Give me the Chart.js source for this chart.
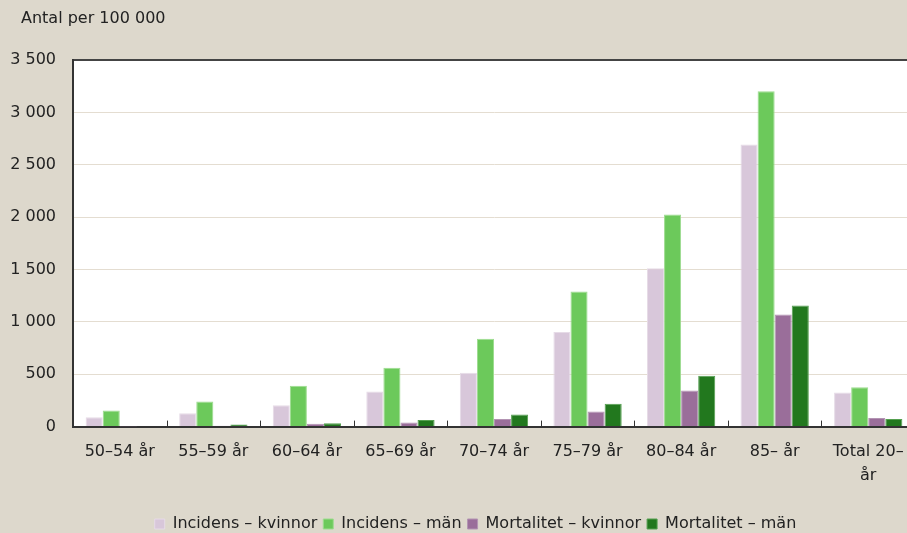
<!DOCTYPE html>
<html>
<head>
<meta charset="utf-8">
<script src="https://cdn.jsdelivr.net/npm/chart.js@4"></script>
<style>
  html, body { margin: 0; padding: 0; background: #ddd8cc; }
  #wrap { position: relative; width: 907px; height: 533px; overflow: hidden; }
  #ytitle { position: absolute; left: 21px; top: 8px; font: 16px "DejaVu Sans"; color: #222; }
  canvas { position: absolute; left: 0; top: 0; }
</style>
</head>
<body>
<div id="wrap">
  <canvas id="chart" width="930" height="544"></canvas>
  <div id="ytitle">Antal per 100 000</div>
</div>
<script>
const categories = ['50–54 år', '55–59 år', '60–64 år', '65–69 år', '70–74 år', '75–79 år', '80–84 år', '85– år', ['Total 20–', 'år']];
const incidensKvinnor = [90, 127, 204, 335, 513, 902, 1511, 2694, 325];
const incidensMan = [153, 239, 389, 561, 839, 1291, 2024, 3201, 376];
const mortalitetKvinnor = [2, 8, 27, 38, 73, 143, 344, 1071, 83];
const mortalitetMan = [5, 20, 32, 64, 115, 217, 485, 1157, 73];
const yTicks = [0, 500, 1000, 1500, 2000, 2500, 3000, 3500];

const FONT = 'DejaVu Sans';
const LEGEND_SHIFT = 18;

// ── Plot area background, inner tick marks, legend offset ─────────────────
const plotDeco = {
    id: 'plotDeco',
    afterLayout(chart) {
        chart.legend.left += LEGEND_SHIFT;
        chart.legend.right += LEGEND_SHIFT;
    },
    beforeDraw(chart) {
        const { ctx, chartArea: a } = chart;
        ctx.save();
        ctx.fillStyle = '#ffffff';
        ctx.fillRect(a.left, a.top, a.right - a.left, a.bottom - a.top);
        ctx.restore();
    },
    afterDraw(chart) {
        const { ctx, chartArea: a } = chart;
        const x = chart.scales.x;
        ctx.save();
        ctx.strokeStyle = '#333';
        ctx.lineWidth = 1;
        for (let i = 0; i < categories.length - 1; i++) {
            const px = Math.round((x.getPixelForValue(i) + x.getPixelForValue(i + 1)) / 2) + 0.5;
            ctx.beginPath();
            ctx.moveTo(px, a.bottom);
            ctx.lineTo(px, a.bottom - 6);
            ctx.stroke();
        }
        ctx.restore();
    },
};

const ds = (label, data, color, border) => ({
    label,
    data,
    backgroundColor: color,
    borderColor: border,
    borderWidth: 1,
    borderSkipped: 'bottom',
    barPercentage: 1,
    categoryPercentage: 0.73,
});

new Chart(document.getElementById('chart'), {
    type: 'bar',
    data: {
        labels: categories,
        datasets: [
            ds('Incidens – kvinnor', incidensKvinnor, '#d8c7da', '#e6dbe7'),
            ds('Incidens – män', incidensMan, '#6cc95b', '#9ddc8f'),
            ds('Mortalitet – kvinnor', mortalitetKvinnor, '#9a6e9a', '#b394b3'),
            ds('Mortalitet – män', mortalitetMan, '#22781e', '#55a050'),
        ],
    },
    options: {
        responsive: false,
        animation: false,
        layout: { padding: { top: 60, right: 15, bottom: 2, left: 0 } },
        plugins: {
            legend: {
                position: 'bottom',
                labels: {
                    boxWidth: 10,
                    boxHeight: 10,
                    padding: 6,
                    color: '#222',
                    font: { family: FONT, size: 16 },
                },
            },
            tooltip: { enabled: false },
        },
        scales: {
            x: {
                grid: { display: false, drawTicks: false },
                border: { color: '#333', width: 2 },
                afterFit(scale) {
                    scale.height += 9;
                },
                ticks: {
                    color: '#222',
                    padding: 14,
                    maxRotation: 0,
                    autoSkip: false,
                    font: { family: FONT, size: 16, lineHeight: 1.45 },
                },
            },
            y: {
                min: 0,
                max: 3500,
                afterBuildTicks(scale) {
                    scale.ticks = yTicks.map((v) => ({ value: v }));
                },
                afterFit(scale) {
                    scale.width = 73;
                },
                grid: {
                    drawTicks: false,
                    color: (c) => (c.tick && c.tick.value === 3500 ? '#444' : '#e4ddd1'),
                    lineWidth: (c) => (c.tick && c.tick.value === 3500 ? 2 : 1),
                },
                border: { color: '#333', width: 2 },
                ticks: {
                    color: '#222',
                    padding: 17,
                    font: { family: FONT, size: 16 },
                    callback: (v) => String(v).replace(/\B(?=(\d{3})+(?!\d))/g, ' '),
                },
            },
        },
    },
    plugins: [plotDeco],
});
</script>
</body>
</html>
